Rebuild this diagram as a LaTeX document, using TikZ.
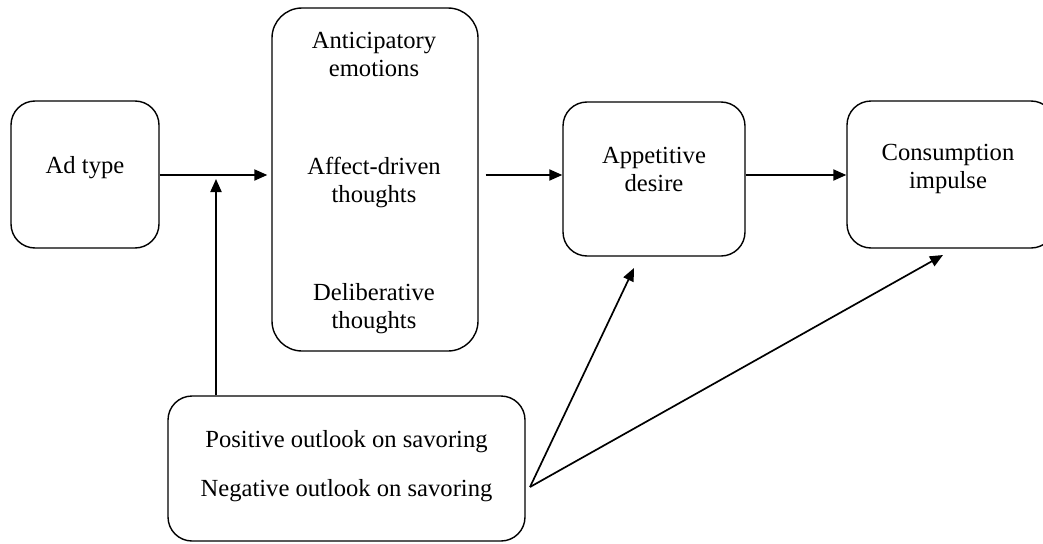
\documentclass[tikz,border=0pt]{standalone}
\usepackage{fontspec}
\setmainfont{Liberation Serif}
\usetikzlibrary{arrows.meta}
\begin{document}
\begin{tikzpicture}[x=1pt,y=-1pt,
  box/.style={draw, line width=1.4pt, rounded corners=24pt, inner sep=0pt},
  lbl/.style={font=\fontsize{24.6}{28}\selectfont, align=center, inner sep=0pt},
  arr/.style={line width=2pt, -{Triangle[length=13pt,width=11pt]}},
  darr/.style={line width=1.7pt, -{Triangle[length=13pt,width=11pt]}},
]
\useasboundingbox (0,0) rectangle (1043,543);
% boxes
\node[box, minimum width=148pt, minimum height=147pt] (ad) at (85,174.5) {};
\node[box, rounded corners=30pt, minimum width=206pt, minimum height=343pt] (mid) at (375,179.5) {};
\node[box, minimum width=182pt, minimum height=154pt] (app) at (654,179) {};
\node[box, minimum width=208pt, minimum height=147pt] (cons) at (951,174.5) {};
\node[box, minimum width=357pt, minimum height=145pt] (out) at (346.5,468.5) {};
% texts
\node[lbl] (adtxt) at (85,168) {Ad type};
\node[lbl] (ant) at (374,54) {Anticipatory\\emotions};
\node[lbl] (aff) at (374,182) {Affect-driven\\thoughts};
\node[lbl] (del) at (374,309) {Deliberative\\thoughts};
\node[lbl] (apptxt) at (654,169) {Appetitive\\desire};
\node[lbl] (constxt) at (948,169) {Consumption\\impulse};
\node[lbl] (pos) at (346.5,442) {Positive outlook on savoring};
\node[lbl] (neg) at (346.5,491) {Negative outlook on savoring};
% connectors
\coordinate (j) at (216,179);
\coordinate (v) at (530,487);
\coordinate (t1) at (634,268);
\coordinate (t2) at (943,255);
\draw[arr, shorten >=4pt] (ad.east |- 0,175) -- (mid.west |- 0,175);
\draw[arr, shorten <=7pt] (mid.east |- 0,175) -- (app.west |- 0,175);
\draw[arr] (app.east |- 0,175) -- (cons.west |- 0,175);
\draw[arr] (out.north -| j) -- (j);
\draw[darr] (v) -- (t1);
\draw[darr] (v) -- (t2);
\end{tikzpicture}
\end{document}
